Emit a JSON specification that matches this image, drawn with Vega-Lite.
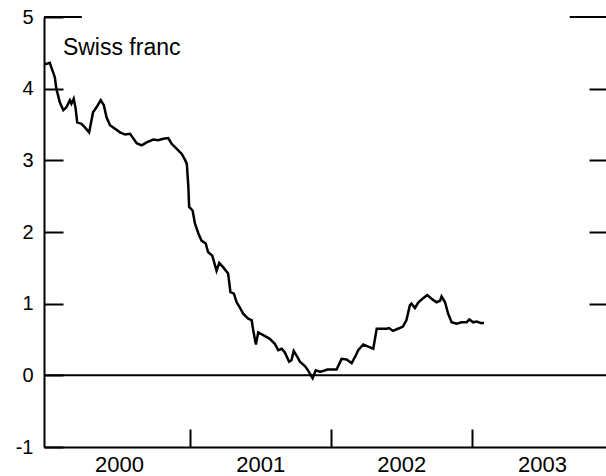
{
  "$schema": "https://vega.github.io/schema/vega-lite/v6.json",
  "width": 562,
  "height": 430,
  "autosize": {"type": "none"},
  "padding": {"left": 44, "top": 17, "right": 0, "bottom": 29},
  "background": "white",
  "config": {
    "view": {"stroke": null},
    "font": "Liberation Sans",
    "axis": {"domainColor": "black", "tickColor": "black", "labelColor": "black", "domainWidth": 2, "tickWidth": 2, "grid": false, "labelFont": "Liberation Sans", "labelFontSize": 18}
  },
  "datasets": {
    "series": [
      {"date": "1999-12-22", "value": 4.34},
      {"date": "2000-01-03", "value": 4.36},
      {"date": "2000-01-16", "value": 4.16},
      {"date": "2000-01-20", "value": 4.0},
      {"date": "2000-01-29", "value": 3.81},
      {"date": "2000-02-07", "value": 3.70},
      {"date": "2000-02-15", "value": 3.74},
      {"date": "2000-02-24", "value": 3.84},
      {"date": "2000-02-28", "value": 3.79},
      {"date": "2000-03-05", "value": 3.86},
      {"date": "2000-03-10", "value": 3.72},
      {"date": "2000-03-14", "value": 3.53},
      {"date": "2000-03-25", "value": 3.51},
      {"date": "2000-04-03", "value": 3.46},
      {"date": "2000-04-14", "value": 3.39},
      {"date": "2000-04-24", "value": 3.67},
      {"date": "2000-05-03", "value": 3.74},
      {"date": "2000-05-14", "value": 3.84},
      {"date": "2000-05-22", "value": 3.77},
      {"date": "2000-05-29", "value": 3.60},
      {"date": "2000-06-07", "value": 3.49},
      {"date": "2000-06-20", "value": 3.44},
      {"date": "2000-07-03", "value": 3.39},
      {"date": "2000-07-16", "value": 3.36},
      {"date": "2000-07-29", "value": 3.37},
      {"date": "2000-08-06", "value": 3.31},
      {"date": "2000-08-15", "value": 3.24},
      {"date": "2000-08-28", "value": 3.21},
      {"date": "2000-09-10", "value": 3.25},
      {"date": "2000-09-27", "value": 3.29},
      {"date": "2000-10-10", "value": 3.28},
      {"date": "2000-10-23", "value": 3.30},
      {"date": "2000-11-05", "value": 3.31},
      {"date": "2000-11-14", "value": 3.23},
      {"date": "2000-11-27", "value": 3.16},
      {"date": "2000-12-10", "value": 3.09},
      {"date": "2000-12-18", "value": 3.01},
      {"date": "2000-12-23", "value": 2.95},
      {"date": "2000-12-27", "value": 2.63},
      {"date": "2000-12-29", "value": 2.35},
      {"date": "2001-01-07", "value": 2.30},
      {"date": "2001-01-13", "value": 2.12},
      {"date": "2001-01-22", "value": 1.98},
      {"date": "2001-01-30", "value": 1.88},
      {"date": "2001-02-10", "value": 1.84},
      {"date": "2001-02-16", "value": 1.72},
      {"date": "2001-02-27", "value": 1.67},
      {"date": "2001-03-10", "value": 1.46},
      {"date": "2001-03-17", "value": 1.57},
      {"date": "2001-03-27", "value": 1.51},
      {"date": "2001-04-09", "value": 1.42},
      {"date": "2001-04-15", "value": 1.16},
      {"date": "2001-04-24", "value": 1.14},
      {"date": "2001-05-01", "value": 1.02},
      {"date": "2001-05-09", "value": 0.95},
      {"date": "2001-05-18", "value": 0.86},
      {"date": "2001-05-31", "value": 0.79},
      {"date": "2001-06-09", "value": 0.77},
      {"date": "2001-06-13", "value": 0.63},
      {"date": "2001-06-20", "value": 0.43},
      {"date": "2001-06-26", "value": 0.60},
      {"date": "2001-07-09", "value": 0.56},
      {"date": "2001-07-26", "value": 0.51},
      {"date": "2001-08-08", "value": 0.44},
      {"date": "2001-08-17", "value": 0.35},
      {"date": "2001-08-26", "value": 0.37},
      {"date": "2001-09-03", "value": 0.32},
      {"date": "2001-09-14", "value": 0.19},
      {"date": "2001-09-20", "value": 0.21},
      {"date": "2001-09-26", "value": 0.34},
      {"date": "2001-10-03", "value": 0.28},
      {"date": "2001-10-12", "value": 0.19},
      {"date": "2001-10-25", "value": 0.13},
      {"date": "2001-11-02", "value": 0.07},
      {"date": "2001-11-14", "value": -0.04},
      {"date": "2001-11-22", "value": 0.07},
      {"date": "2001-12-03", "value": 0.05},
      {"date": "2001-12-11", "value": 0.06},
      {"date": "2001-12-22", "value": 0.08},
      {"date": "2002-01-06", "value": 0.08},
      {"date": "2002-01-15", "value": 0.08},
      {"date": "2002-01-28", "value": 0.23},
      {"date": "2002-02-10", "value": 0.22},
      {"date": "2002-02-23", "value": 0.17},
      {"date": "2002-03-06", "value": 0.28},
      {"date": "2002-03-12", "value": 0.35},
      {"date": "2002-03-25", "value": 0.43},
      {"date": "2002-04-07", "value": 0.40},
      {"date": "2002-04-20", "value": 0.37},
      {"date": "2002-04-29", "value": 0.65},
      {"date": "2002-05-12", "value": 0.65},
      {"date": "2002-05-25", "value": 0.65},
      {"date": "2002-05-31", "value": 0.66},
      {"date": "2002-06-10", "value": 0.62},
      {"date": "2002-06-23", "value": 0.65},
      {"date": "2002-07-06", "value": 0.68},
      {"date": "2002-07-15", "value": 0.77},
      {"date": "2002-07-24", "value": 0.98},
      {"date": "2002-07-28", "value": 1.00},
      {"date": "2002-08-06", "value": 0.94},
      {"date": "2002-08-15", "value": 1.02},
      {"date": "2002-08-28", "value": 1.08},
      {"date": "2002-09-07", "value": 1.12},
      {"date": "2002-09-18", "value": 1.07},
      {"date": "2002-10-01", "value": 1.02},
      {"date": "2002-10-10", "value": 1.04},
      {"date": "2002-10-14", "value": 1.10},
      {"date": "2002-10-23", "value": 1.02},
      {"date": "2002-10-31", "value": 0.86},
      {"date": "2002-11-09", "value": 0.74},
      {"date": "2002-11-22", "value": 0.72},
      {"date": "2002-12-05", "value": 0.74},
      {"date": "2002-12-18", "value": 0.74},
      {"date": "2002-12-25", "value": 0.78},
      {"date": "2003-01-04", "value": 0.74},
      {"date": "2003-01-13", "value": 0.75},
      {"date": "2003-01-23", "value": 0.73},
      {"date": "2003-02-01", "value": 0.73}
    ],
    "topticks": [
      {"start": "1999-12-19", "end": "2000-03-26", "value": 5},
      {"start": "2003-09-11", "end": "2003-12-14", "value": 5}
    ]
  },
  "resolve": {"axis": {"y": "independent"}},
  "layer": [
    {
      "data": {"name": "series"},
      "mark": {"type": "line", "color": "black", "strokeWidth": 2.5},
      "encoding": {
        "x": {
          "field": "date", "type": "temporal",
          "scale": {"domain": [{"year": 1999, "month": 12, "date": 19}, {"year": 2003, "month": 12, "date": 14}]},
          "axis": {
            "orient": "bottom",
            "title": null,
            "values": [
              {"year": 2000, "month": 1, "date": 1},
              {"year": 2001, "month": 1, "date": 1},
              {"year": 2002, "month": 1, "date": 1},
              {"year": 2003, "month": 1, "date": 1}
            ],
            "format": "%Y",
            "labelOffset": 70,
            "labelPadding": 25,
            "labelFontSize": 22,
            "tickSize": -18,
            "tickOpacity": {"condition": {"test": "year(datum.value) == 2000", "value": 0}, "value": 1},
            "labelFlush": false,
            "labelOverlap": false
          }
        },
        "y": {
          "field": "value", "type": "quantitative",
          "scale": {"domain": [-1, 5], "nice": false, "zero": false},
          "axis": {
            "orient": "left",
            "title": null,
            "values": [-1, 0, 1, 2, 3, 4, 5],
            "labelExpr": "datum.value < 0 ? '-' + abs(datum.value) : datum.label",
            "tickSize": -19,
            "labelPadding": 30,
            "labelFontSize": 20
          }
        }
      }
    },
    {
      "data": {"values": [{"value": 0}]},
      "mark": {"type": "rule", "color": "black", "strokeWidth": 2},
      "encoding": {
        "y": {
          "field": "value", "type": "quantitative",
          "axis": {
            "orient": "right",
            "title": null,
            "values": [1, 2, 3, 4],
            "tickSize": -17,
            "labels": false,
            "domain": false
          }
        }
      }
    },
    {
      "data": {"name": "topticks"},
      "mark": {"type": "rule", "color": "black", "strokeWidth": 2},
      "encoding": {
        "x": {"field": "start", "type": "temporal"},
        "x2": {"field": "end"},
        "y": {"field": "value", "type": "quantitative", "axis": null}
      }
    },
    {
      "data": {"values": [{"date": "2000-02-06", "value": 4.57, "label": "Swiss franc"}]},
      "mark": {"type": "text", "align": "left", "baseline": "middle", "fontSize": 23, "font": "Liberation Sans", "color": "black"},
      "encoding": {
        "x": {"field": "date", "type": "temporal"},
        "y": {"field": "value", "type": "quantitative", "axis": null},
        "text": {"field": "label"}
      }
    }
  ]
}
